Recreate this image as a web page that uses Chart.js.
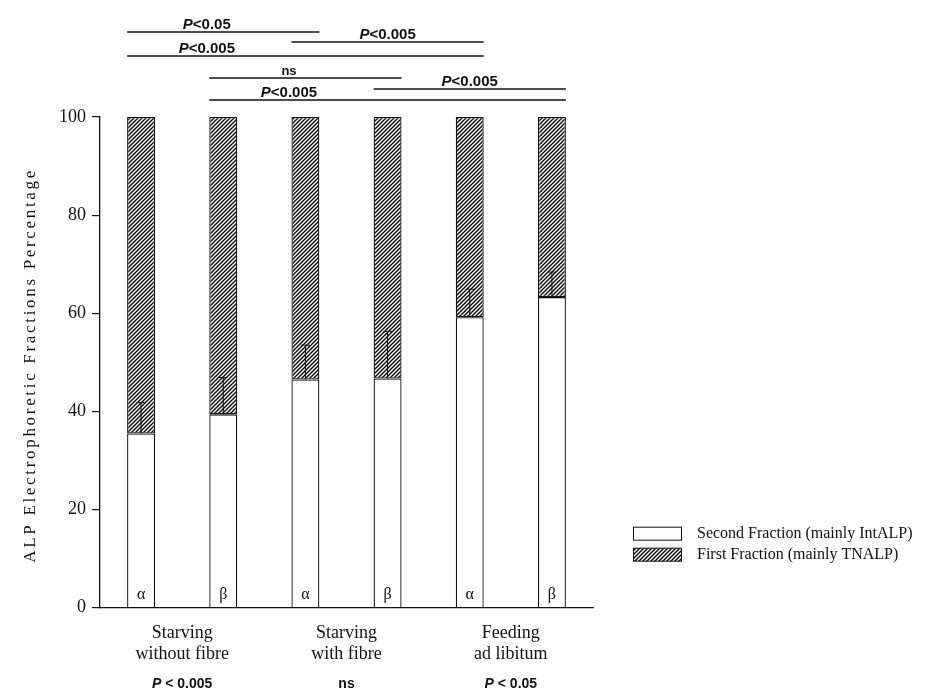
<!DOCTYPE html>
<html>
<head>
<meta charset="utf-8">
<script src="https://cdn.jsdelivr.net/npm/chart.js@4.4.1/dist/chart.umd.min.js"></script>
<style>
  html, body { margin: 0; padding: 0; background: #fff; }
  #wrap { width: 930px; height: 689px; }
</style>
</head>
<body>
<div id="wrap"><canvas id="alpChart" width="930" height="689"></canvas></div>
<script>
// bars: alpha / beta within each feeding group
const barLetters = ['α', 'β', 'α', 'β', 'α', 'β'];
const groupLabels = [['Starving', 'without fibre'], ['Starving', 'with fibre'], ['Feeding', 'ad libitum']];
const groupP = ['P < 0.005', 'ns', 'P < 0.05'];

const secondFraction = [35.5, 39.4, 46.5, 46.7, 59.2, 63.3];
const firstFraction = [64.5, 60.6, 53.5, 53.3, 40.8, 36.7];
const secondError = [6.3, 7.5, 7.0, 9.6, 5.7, 5.1];

const yTicks = [0, 20, 40, 60, 80, 100];
const yTitle = 'ALP Electrophoretic Fractions Percentage';

// significance brackets over the bars
const sigFrom = [0, 2, 0, 1, 3, 1];
const sigTo = [2, 4, 4, 3, 5, 5];
const sigLabels = ['P<0.05', 'P<0.005', 'P<0.005', 'ns', 'P<0.005', 'P<0.005'];
const sigLabelAt = [0.8, 3.0, 0.8, 1.8, 4.0, 1.8];
const sigRise = [85, 75, 61, 39, 28, 17];

const SERIF = '"Liberation Serif", "DejaVu Serif", serif';
const SANS = '"Liberation Sans", Arial, sans-serif';

function makeHatch() {
  const c = document.createElement('canvas');
  c.width = 4; c.height = 4;
  const g = c.getContext('2d');
  g.fillStyle = '#fff';
  g.fillRect(0, 0, 4, 4);
  g.strokeStyle = '#111';
  g.lineWidth = 1.5;
  g.beginPath();
  g.moveTo(-1, 5); g.lineTo(5, -1);
  g.moveTo(-1, 1); g.lineTo(1, -1);
  g.moveTo(3, 5); g.lineTo(5, 3);
  g.stroke();
  return g.createPattern(c, 'repeat');
}

// "P" in italic, the rest upright
function drawPText(ctx, text, cx, y, size) {
  const upright = 'bold ' + size + 'px ' + SANS;
  const italic = 'italic bold ' + size + 'px ' + SANS;
  if (text[0] !== 'P') {
    ctx.font = upright;
    ctx.textAlign = 'center';
    ctx.fillText(text, cx, y);
    return;
  }
  const rest = text.slice(1);
  ctx.font = italic;
  const wp = ctx.measureText('P').width;
  ctx.font = upright;
  const wr = ctx.measureText(rest).width;
  const x0 = cx - (wp + wr) / 2;
  ctx.textAlign = 'left';
  ctx.font = italic;
  ctx.fillText('P', x0, y);
  ctx.font = upright;
  ctx.fillText(rest, x0 + wp, y);
}

const extrasPlugin = {
  id: 'extras',
  afterDatasetsDraw(chart) {
    const ctx = chart.ctx;
    const y = chart.scales.y;
    const meta = chart.getDatasetMeta(0);
    ctx.save();
    ctx.strokeStyle = '#111';
    ctx.lineWidth = 1;
    meta.data.forEach((bar, i) => {
      const top = y.getPixelForValue(secondFraction[i] + secondError[i]);
      ctx.beginPath();
      ctx.moveTo(bar.x, bar.y);
      ctx.lineTo(bar.x, top);
      ctx.moveTo(bar.x - 4.5, top);
      ctx.lineTo(bar.x + 4.5, top);
      ctx.stroke();
      // alpha / beta inside the bar foot
      ctx.fillStyle = '#111';
      ctx.font = '16px ' + SERIF;
      ctx.textAlign = 'center';
      ctx.textBaseline = 'middle';
      ctx.fillText(chart.data.labels[i], bar.x, chart.chartArea.bottom - 13);
    });
    ctx.restore();
  },
  afterDraw(chart) {
    const ctx = chart.ctx;
    const area = chart.chartArea;
    const x = chart.scales.x;
    const x2 = chart.scales.x2;
    const meta = chart.getDatasetMeta(0);
    ctx.save();
    ctx.fillStyle = '#111';
    ctx.strokeStyle = '#111';

    // significance brackets
    ctx.lineWidth = 1.4;
    ctx.textBaseline = 'alphabetic';
    sigLabels.forEach((lab, k) => {
      const a = meta.data[sigFrom[k]];
      const b = meta.data[sigTo[k]];
      const ly = area.top - sigRise[k];
      ctx.beginPath();
      ctx.moveTo(a.x - a.width / 2, ly);
      ctx.lineTo(b.x + b.width / 2, ly);
      ctx.stroke();
      drawPText(ctx, lab, x.getPixelForValue(sigLabelAt[k]), ly - 3, lab === 'ns' ? 13 : 15);
    });

    // p values under the group names
    ctx.textBaseline = 'middle';
    groupP.forEach((lab, i) => {
      drawPText(ctx, lab, x2.getPixelForValue(i), area.bottom + 76, 14);
    });

    // y axis title, spread out like the original
    ctx.save();
    ctx.translate(area.left - 69, (area.top + area.bottom) / 2 + 3);
    ctx.rotate(-Math.PI / 2);
    ctx.font = '17px ' + SERIF;
    const w = ctx.measureText(yTitle).width;
    const spacing = Math.max(0, (392 - w) / (yTitle.length - 1));
    ctx.letterSpacing = spacing.toFixed(2) + 'px';
    ctx.textAlign = 'center';
    ctx.textBaseline = 'middle';
    ctx.fillText(yTitle, 0, 0);
    ctx.letterSpacing = '0px';
    ctx.restore();

    // legend
    const lx = area.right + 40;
    chart.data.datasets.forEach((ds, i) => {
      const cy = area.bottom - 74 + i * 21;
      ctx.fillStyle = ds.backgroundColor;
      ctx.fillRect(lx, cy - 6.5, 48, 13);
      ctx.lineWidth = 1;
      ctx.strokeRect(lx + 0.5, cy - 6.5, 48, 13);
      ctx.fillStyle = '#111';
      ctx.font = '16px ' + SERIF;
      ctx.textAlign = 'left';
      ctx.textBaseline = 'middle';
      ctx.fillText(ds.label, lx + 64, cy);
    });
    ctx.restore();
  }
};

window.addEventListener('DOMContentLoaded', () => {
  const ctx = document.getElementById('alpChart').getContext('2d');
  const hatch = makeHatch();

  new Chart(ctx, {
    type: 'bar',
    data: {
      labels: barLetters,
      datasets: [
        {
          label: 'Second Fraction (mainly IntALP)',
          data: secondFraction,
          backgroundColor: '#ffffff',
          borderColor: '#111',
          borderWidth: 1.3,
          borderSkipped: 'bottom'
        },
        {
          label: 'First Fraction (mainly TNALP)',
          data: firstFraction,
          backgroundColor: hatch,
          borderColor: '#111',
          borderWidth: 1.3,
          borderSkipped: false
        }
      ]
    },
    options: {
      responsive: false,
      animation: false,
      barPercentage: 0.34,
      categoryPercentage: 1,
      layout: {
        padding: { left: 53, right: 337, top: 117, bottom: 25 }
      },
      plugins: {
        legend: { display: false },
        tooltip: { enabled: false }
      },
      scales: {
        x: {
          stacked: true,
          weight: 0,
          grid: { display: false },
          border: { display: true, color: '#111', width: 1.3 },
          ticks: { display: false }
        },
        x2: {
          type: 'category',
          position: 'bottom',
          weight: 1,
          labels: groupLabels,
          offset: true,
          grid: { display: false },
          border: { display: false },
          ticks: {
            color: '#111',
            padding: 0,
            font: { family: SERIF, size: 18, lineHeight: 1.12 }
          }
        },
        y: {
          stacked: true,
          min: 0,
          max: 100,
          afterBuildTicks: (axis) => { axis.ticks = yTicks.map(v => ({ value: v })); },
          grid: { drawOnChartArea: false, drawTicks: true, tickLength: 8, color: '#111', lineWidth: 1.2 },
          border: { display: true, color: '#111', width: 1.3 },
          ticks: {
            color: '#111',
            padding: 6,
            font: { family: SERIF, size: 18 }
          }
        }
      }
    },
    plugins: [extrasPlugin]
  });
});
</script>
</body>
</html>
